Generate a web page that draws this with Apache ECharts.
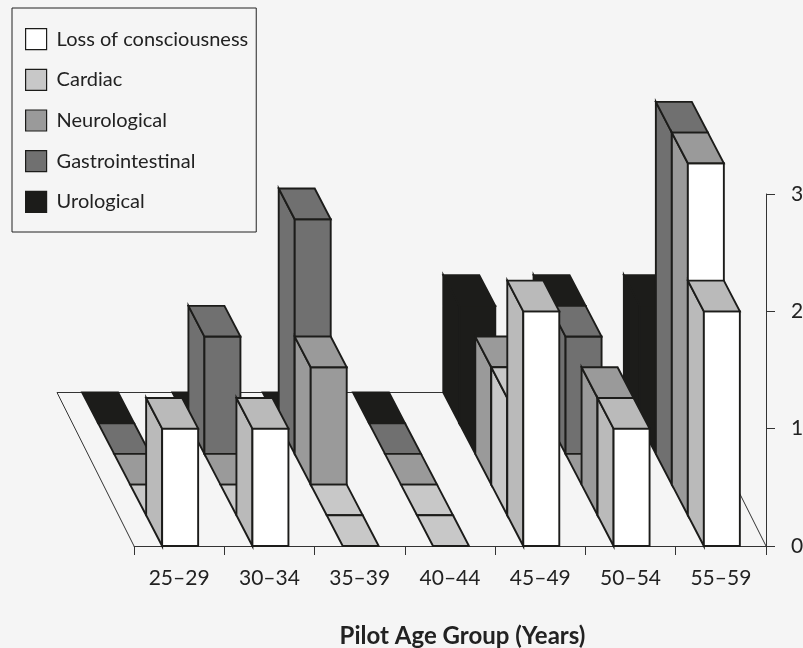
<!DOCTYPE html>
<html>
<head>
<meta charset="utf-8">
<style>
  html, body { margin: 0; padding: 0; background: #f5f5f5; }
  #chart { width: 803px; height: 648px; }
</style>
<script src="https://cdn.jsdelivr.net/npm/echarts@6/dist/echarts.min.js"></script>
</head>
<body>
<div id="chart"></div>
<script>
const ageGroups = ['25–29', '30–34', '35–39', '40–44', '45–49', '50–54', '55–59'];
const lossOfConsciousness = [1, 1, 0, 0, 2, 1, 2];
const cardiac = [0, 0, 0, 0, 1, 1, 3];
const neurological = [0, 0, 1, 0, 1, 0, 3];
const gastrointestinal = [0, 1, 2, 0, 0, 1, 0];
const urological = [0, 0, 0, 0, 1, 1, 1];
const countTicks = [0, 1, 2, 3];

const INK = '#1c1c1a';
const WHITE = '#ffffff', LIGHT = '#c8c8c8', MID = '#bababa', GREY = '#9a9a9a', DARK = '#707070';

// one step back into the chart, every row sits one step behind the previous one
const DEPTH_X = 16, DEPTH_Y = 30.7, BAR_W = 36, ROWS = 5;

// the printed figure does not colour every bar like its row, these are the odd ones: row,group
const oddFaces = {
  '1,5': { top: GREY, side: GREY, front: GREY },
  '1,6': { top: GREY, side: GREY, front: WHITE },
  '2,6': { top: DARK, side: DARK, front: DARK },
  '3,4': { top: INK, side: INK, front: INK },
  '3,6': { top: INK, side: INK, front: INK }
};

function barRenderer(row, faces) {
  return function (params, api) {
    const group = api.value(0);
    const v = api.value(1);
    const base = api.coord([group, 0]);
    const tip = api.coord([group, v]);
    const l = base[0] - 17 - row * DEPTH_X;
    const r = l + BAR_W;
    const y0 = base[1] - row * DEPTH_Y;
    const y1 = tip[1] - row * DEPTH_Y;
    const f = oddFaces[row + ',' + group] || faces;
    const face = function (points, fill) {
      return {
        type: 'polygon',
        shape: { points: points },
        style: { fill: fill, stroke: INK, lineWidth: 1.9, lineJoin: 'miter' }
      };
    };
    const children = [];
    if (v > 0) {
      children.push(face([[l, y1], [l - DEPTH_X, y1 - DEPTH_Y], [l - DEPTH_X, y0 - DEPTH_Y], [l, y0]], f.side));
      children.push(face([[l, y1], [r, y1], [r, y0], [l, y0]], f.front));
    }
    const topFill = v > 0 ? f.top : (f.flat || f.top);
    children.push(face([[l, y1], [r, y1], [r - DEPTH_X, y1 - DEPTH_Y], [l - DEPTH_X, y1 - DEPTH_Y]], topFill));
    return { type: 'group', children: children };
  };
}

function rowSeries(name, values, row, faces, legendColor) {
  return {
    name: name,
    type: 'custom',
    coordinateSystem: 'cartesian2d',
    renderItem: barRenderer(row, faces),
    itemStyle: { color: legendColor },
    encode: { x: 0, y: 1 },
    data: values.map(function (v, i) { return [i, v]; })
  };
}

// floor outline behind the bars
const floorSeries = {
  type: 'custom',
  coordinateSystem: 'cartesian2d',
  silent: true,
  encode: { x: 0, y: 1 },
  data: [[0, 0]],
  renderItem: function (params) {
    const c = params.coordSys;
    const y = c.y + c.height;
    const dx = ROWS * DEPTH_X - 3, dy = ROWS * DEPTH_Y;
    return {
      type: 'polyline',
      shape: { points: [[c.x, y], [c.x - dx, y - dy], [c.x + c.width - dx, y - dy], [c.x + c.width, y]] },
      style: { fill: null, stroke: '#333', lineWidth: 1 }
    };
  }
};

const myChart = echarts.init(document.getElementById('chart'));
myChart.setOption({
  animation: false,
  backgroundColor: '#f5f5f5',
  grid: { left: 134, right: 37, top: 194, bottom: 102, containLabel: false, outerBoundsMode: 'none' },
  legend: {
    orient: 'vertical',
    left: 12,
    top: 8,
    padding: [20, 8, 19, 13],
    itemWidth: 21,
    itemHeight: 21,
    itemGap: 18.5,
    icon: 'rect',
    borderColor: '#222',
    borderWidth: 1,
    borderRadius: 0,
    itemStyle: { borderColor: INK, borderWidth: 1.2 },
    textStyle: { fontFamily: 'Lato', fontSize: 20, color: '#222', padding: [6, 0, 0, 5] },
    selectedMode: false,
    data: ['Loss of consciousness', 'Cardiac', 'Neurological', 'Gastrointestinal', 'Urological']
  },
  xAxis: {
    type: 'category',
    data: ageGroups,
    name: 'Pilot Age Group (Years)',
    nameLocation: 'middle',
    nameGap: 78,
    nameTextStyle: { fontFamily: 'Lato', fontSize: 24, fontWeight: 'bold', color: '#222', padding: [0, 0, 0, 25] },
    axisLine: { lineStyle: { color: '#333', width: 1 } },
    axisTick: { show: true, length: 9, lineStyle: { color: '#333', width: 1 } },
    axisLabel: { fontFamily: 'Lato', fontSize: 21, color: '#222', margin: 22 },
    splitLine: { show: false }
  },
  yAxis: {
    type: 'value',
    position: 'right',
    min: countTicks[0],
    max: countTicks[countTicks.length - 1],
    interval: 1,
    axisLine: { show: true, lineStyle: { color: '#333', width: 1 } },
    axisTick: { show: true, length: 9, lineStyle: { color: '#333', width: 1 } },
    axisLabel: { fontFamily: 'Lato', fontSize: 21, color: '#222', margin: 25 },
    splitLine: { show: false }
  },
  series: [
    floorSeries,
    rowSeries('Urological', urological, 4, { top: INK, side: INK, front: INK }, INK),
    rowSeries('Gastrointestinal', gastrointestinal, 3, { top: DARK, side: DARK, front: DARK }, DARK),
    rowSeries('Neurological', neurological, 2, { top: GREY, side: GREY, front: GREY }, GREY),
    rowSeries('Cardiac', cardiac, 1, { top: LIGHT, side: LIGHT, front: LIGHT }, LIGHT),
    rowSeries('Loss of consciousness', lossOfConsciousness, 0, { top: MID, side: MID, front: WHITE, flat: LIGHT }, WHITE)
  ]
});
</script>
</body>
</html>
